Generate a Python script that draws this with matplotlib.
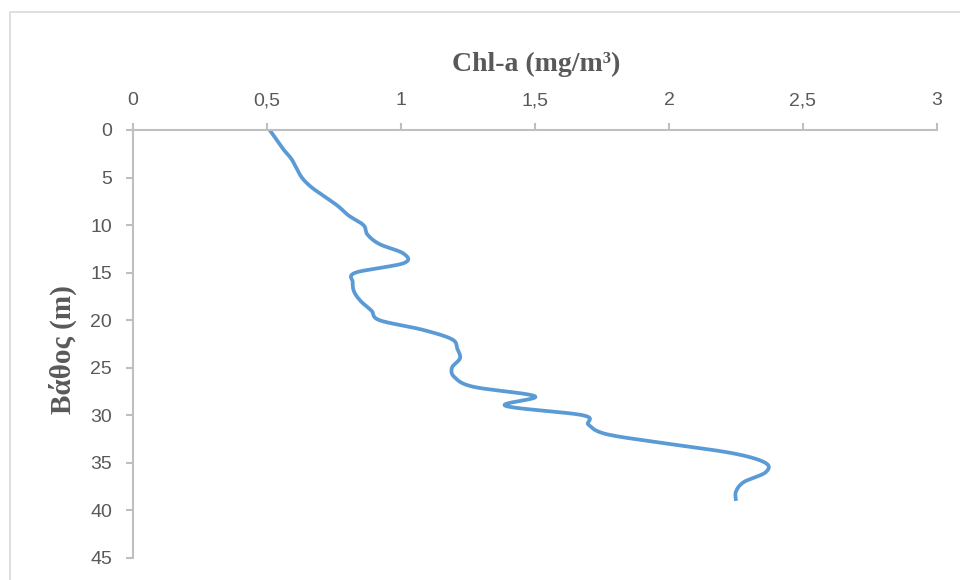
import numpy as np
import matplotlib
matplotlib.use('Agg')
import matplotlib.pyplot as plt
from matplotlib.patches import Rectangle
from matplotlib.ticker import FuncFormatter

# Chlorophyll-a profile
depth = [0, 1, 2, 3, 4, 5, 6, 7, 8, 9, 10, 11, 12, 13, 14, 15, 16, 17, 18, 19,
         20, 21, 22, 23, 24, 25, 26, 27, 28, 29, 30, 31, 32, 33, 34, 35, 36, 37, 38, 39]
chl_a = [0.51, 0.535, 0.56, 0.59, 0.61, 0.63, 0.665, 0.715, 0.765, 0.805,
         0.86, 0.875, 0.92, 1.01, 1.01, 0.83, 0.82, 0.825, 0.85, 0.89,
         0.92, 1.08, 1.19, 1.21, 1.22, 1.19, 1.20, 1.27, 1.50, 1.39,
         1.68, 1.70, 1.77, 2.00, 2.24, 2.36, 2.36, 2.28, 2.25, 2.25]
x_ticks = [0, 0.5, 1, 1.5, 2, 2.5, 3]
y_ticks = [0, 5, 10, 15, 20, 25, 30, 35, 40, 45]


def smooth(xs, ys, n=20):
    # Catmull-Rom curve through the points, like Excel's smoothed line
    p = np.column_stack([xs, ys]).astype(float)
    p = np.vstack([p[0], p, p[-1]])
    out = []
    t = np.linspace(0, 1, n, endpoint=False)[:, None]
    for i in range(1, len(p) - 2):
        p0, p1, p2, p3 = p[i - 1], p[i], p[i + 1], p[i + 2]
        seg = 0.5 * ((2 * p1) + (-p0 + p2) * t + (2 * p0 - 5 * p1 + 4 * p2 - p3) * t ** 2
                     + (-p0 + 3 * p1 - 3 * p2 + p3) * t ** 3)
        out.append(seg)
    out.append(p[-2][None, :])
    out = np.vstack(out)
    return out[:, 0], out[:, 1]


fig = plt.figure(figsize=(9.6, 5.8), dpi=100)
ax = fig.add_axes([133 / 960, 1 - 558 / 580, 804 / 960, 428 / 580])

sx, sy = smooth(chl_a, depth)
ax.plot(sx, sy, color='#5B9BD5', linewidth=2.7, solid_capstyle='butt')

ax.set_xlim(0, 3)
ax.set_ylim(45, 0)
ax.set_xticks(x_ticks)
ax.set_yticks(y_ticks)
ax.xaxis.set_major_formatter(FuncFormatter(lambda v, pos: f'{v:g}'.replace('.', ',')))
ax.xaxis.tick_top()

grey = '#BFBFBF'
for s in ['right', 'bottom']:
    ax.spines[s].set_visible(False)
for s in ['left', 'top']:
    ax.spines[s].set_color(grey)
    ax.spines[s].set_linewidth(1.5)
ax.tick_params(axis='both', colors=grey, length=5, width=1.5, direction='out', pad=10,
               labelcolor='#595959', labelsize=14)
for lab in ax.get_xticklabels() + ax.get_yticklabels():
    lab.set_family('Liberation Sans')

fig.text(536 / 960, 1 - 64 / 580, 'Chl-a (mg/m³)', ha='center', va='center',
         family='Liberation Serif', fontweight='bold', fontsize=20, color='#595959')
fig.text(63 / 960, 1 - 350 / 580, 'Βάθος (m)', ha='center', va='center', rotation=90,
         family='Liberation Serif', fontweight='bold', fontsize=21, color='#595959')

# chart frame
fig.patches.append(Rectangle((10 / 960, -0.1), 1.1, 1 - 12 / 580 + 0.1,
                             transform=fig.transFigure, fill=False,
                             edgecolor='#D9D9D9', linewidth=1.2))

plt.savefig('out.png', dpi=100)
plt.close()
